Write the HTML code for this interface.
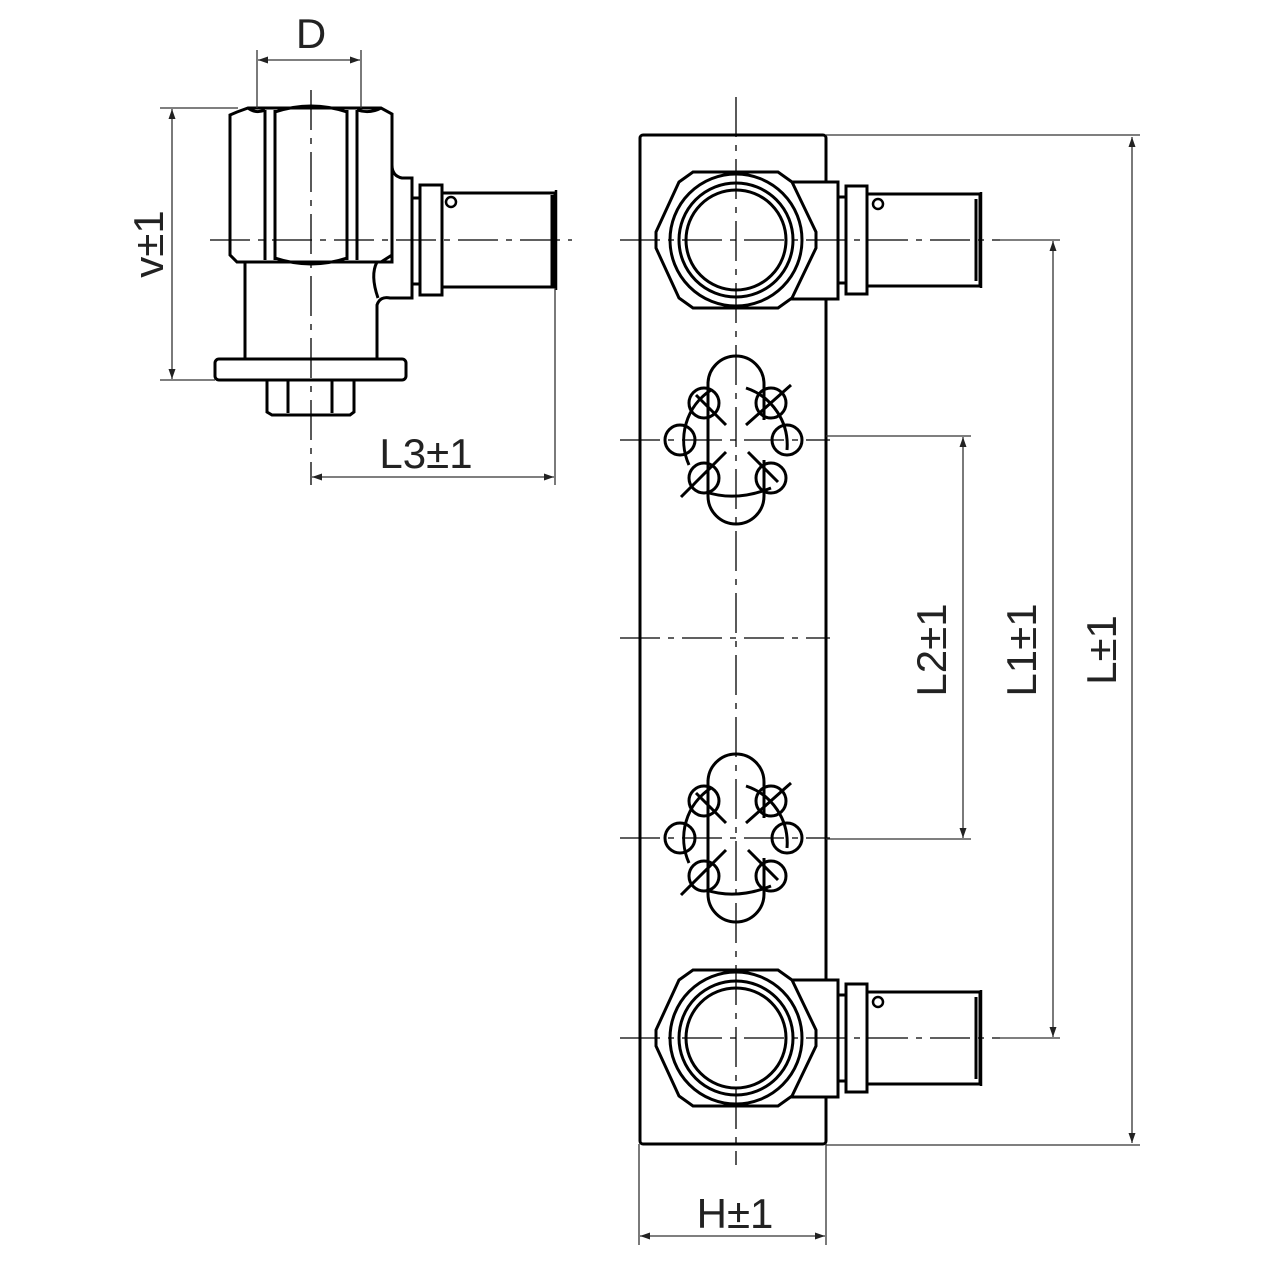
<!DOCTYPE html>
<html><head><style>html,body{margin:0;padding:0;background:#fff}svg{display:block}</style></head>
<body>
<svg width="1280" height="1280" viewBox="0 0 1280 1280" xmlns="http://www.w3.org/2000/svg">
<defs>
<marker id="ar" viewBox="0 0 10 10" refX="10" refY="5" markerWidth="10" markerHeight="10" markerUnits="userSpaceOnUse" orient="auto-start-reverse">
<path d="M0,1.5 L10,5 L0,8.5 Z" fill="#222"/></marker>
<g id="fit">
 <rect x="40" y="-58" width="62" height="117" fill="#fff" stroke="#000" stroke-width="3"/>
 <polygon points="-57,-58 -43,-68 42,-68 56,-58 80,-8 80,8 56,58 42,68 -43,68 -57,58 -80,8 -80,-8" fill="#fff" stroke="#000" stroke-width="3"/>
 <circle r="66" fill="#fff" stroke="#000" stroke-width="3"/>
 <circle r="57" fill="none" stroke="#000" stroke-width="3"/>
 <circle r="50" fill="none" stroke="#000" stroke-width="3"/>
 <rect x="102" y="-43" width="8" height="86" fill="#fff" stroke="#000" stroke-width="3"/>
 <rect x="110" y="-54" width="21" height="108" fill="#fff" stroke="#000" stroke-width="3"/>
 <rect x="131" y="-46" width="113" height="92" fill="#fff" stroke="#000" stroke-width="3"/>
 <line x1="240" y1="-41" x2="240" y2="41" stroke="#000" stroke-width="3"/>
 <line x1="245" y1="-48" x2="245" y2="48" stroke="#000" stroke-width="2.5"/>
 <circle cx="142" cy="-36" r="5" fill="none" stroke="#000" stroke-width="2.5"/>
</g>
<g id="holes" fill="none" stroke="#000" stroke-width="3">
 <path d="M-28,-58 L-28,-56 A28,28 0 0 1 28,-56 L28,-20 M-28,-40 L-28,56 A28,28 0 0 0 28,56 L28,20"/>
 <path d="M-28,-56 L-28,-30 M28,-56 L28,-40"/>
 <circle cx="-56" cy="0" r="15"/><circle cx="51" cy="0" r="15"/>
 <circle cx="-32" cy="-37" r="15"/><circle cx="35" cy="-37" r="15"/>
 <circle cx="-32" cy="38" r="15"/><circle cx="35" cy="38" r="15"/>
 <path d="M-47,25 A60,60 0 0 1 -25,-50"/><path d="M10,-52 A60,60 0 0 1 51,10"/>
 <path d="M-30,52 Q0,62 35,48"/>
 <line x1="-40" y1="-45" x2="-10" y2="-15"/><line x1="10" y1="-15" x2="55" y2="-55"/>
 <line x1="-10" y1="12" x2="-55" y2="57"/><line x1="12" y1="12" x2="42" y2="42"/>
</g>
</defs>

<rect x="640" y="135" width="186" height="1009" rx="3" fill="#fff" stroke="#000" stroke-width="3"/>
<use href="#fit" x="736" y="240"/>
<use href="#fit" x="736" y="1038"/>
<use href="#holes" x="736" y="440"/>
<use href="#holes" x="736" y="838"/>

<g stroke="#000" stroke-width="1.3" stroke-dasharray="40,8,6,8">
 <line x1="736" y1="97" x2="736" y2="1165"/>
 <line x1="620" y1="240" x2="1000" y2="240"/>
 <line x1="620" y1="1038" x2="1000" y2="1038"/>
 <line x1="620" y1="440" x2="830" y2="440"/>
 <line x1="620" y1="838" x2="830" y2="838"/>
 <line x1="620" y1="638" x2="830" y2="638"/>
</g>

<g stroke="#333" stroke-width="1.3" fill="none">
 <line x1="826" y1="135" x2="1140" y2="135"/>
 <line x1="826" y1="1145" x2="1140" y2="1145"/>
 <line x1="1132" y1="137" x2="1132" y2="1143" marker-start="url(#ar)" marker-end="url(#ar)"/>
 <line x1="1000" y1="240" x2="1060" y2="240"/>
 <line x1="1000" y1="1038" x2="1060" y2="1038"/>
 <line x1="1053" y1="241" x2="1053" y2="1037" marker-start="url(#ar)" marker-end="url(#ar)"/>
 <line x1="826" y1="436" x2="971" y2="436"/>
 <line x1="826" y1="839" x2="971" y2="839"/>
 <line x1="963" y1="437" x2="963" y2="838" marker-start="url(#ar)" marker-end="url(#ar)"/>
 <line x1="639" y1="1144" x2="639" y2="1245"/>
 <line x1="826" y1="1144" x2="826" y2="1245"/>
 <line x1="640" y1="1236" x2="825" y2="1236" marker-start="url(#ar)" marker-end="url(#ar)"/>
</g>
<g font-family="Liberation Sans, sans-serif" font-size="42" fill="#222" text-anchor="middle">
 <text transform="translate(1116,650) rotate(-90)">L±1</text>
 <text transform="translate(1036,650) rotate(-90)">L1±1</text>
 <text transform="translate(946,650) rotate(-90)">L2±1</text>
 <text x="735" y="1228">H±1</text>
 <text x="311" y="48">D</text>
 <text x="426" y="468">L3±1</text>
 <text transform="translate(163,244) rotate(-90)">v±1</text>
</g>

<g fill="#fff" stroke="#000" stroke-width="3">
 <path d="M245,262 L245,360 L377,360 L377,305 Q380,296 390,298 L412,298 L412,178 L402,178 Q392,176 392,165 L392,262 Z"/>
 <rect x="412" y="198" width="8" height="86"/>
 <rect x="420" y="185" width="22" height="110"/>
 <rect x="442" y="193" width="113" height="94"/>
 <line x1="552" y1="195" x2="552" y2="286"/>
 <line x1="556" y1="190" x2="556" y2="290" stroke-width="2.5"/>
 <polygon points="237,112 248,108 381,108 392,114 392,255 381,262 237,262 230,255 230,115"/>
 <path d="M265,110 L265,260 M275,110 L275,260 M347,110 L347,260 M357,110 L357,260" fill="none"/>
 <path d="M275,112 Q311,100 347,112 M275,258 Q311,270 347,258 M248,108 Q256,114 265,110 M357,110 Q370,114 381,108" fill="none"/>
 <path d="M377,262 Q370,275 378,298" fill="none"/>
 <rect x="215" y="359" width="191" height="21" rx="4"/>
 <path d="M267,380 L267,412 L272,415 L350,415 L354,412 L354,380 Z"/>
 <path d="M288,381 L288,413 M332,381 L332,413" fill="none"/>
 <circle cx="451" cy="202" r="5" stroke-width="2.5"/>
</g>
<g stroke="#000" stroke-width="1.3" stroke-dasharray="40,8,6,8">
 <line x1="311" y1="90" x2="311" y2="485"/>
 <line x1="210" y1="240" x2="572" y2="240"/>
</g>
<g stroke="#333" stroke-width="1.3" fill="none">
 <line x1="257" y1="50" x2="257" y2="108"/>
 <line x1="361" y1="50" x2="361" y2="108"/>
 <line x1="258" y1="60" x2="360" y2="60" marker-start="url(#ar)" marker-end="url(#ar)"/>
 <line x1="160" y1="108" x2="238" y2="108"/>
 <line x1="160" y1="380" x2="215" y2="380"/>
 <line x1="172" y1="109" x2="172" y2="379" marker-start="url(#ar)" marker-end="url(#ar)"/>
 <line x1="555" y1="288" x2="555" y2="485"/>
 <line x1="312" y1="477" x2="554" y2="477" marker-start="url(#ar)" marker-end="url(#ar)"/>
</g>
</svg>
</body></html>
